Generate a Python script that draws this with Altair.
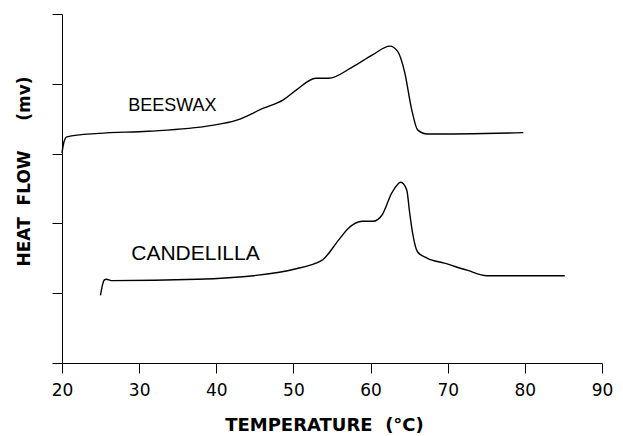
import altair as alt
import pandas as pd

# Beeswax DSC trace (temperature °C, heat flow arbitrary units)
bees_t = [20.0, 20.26, 20.64, 24.74, 31.14, 39.2, 42.66, 46.12, 48.68, 50.35, 52.9,
          54.57, 57.64, 60.2, 62.5, 63.53, 64.43, 65.33, 66.1, 67.37, 79.8]
bees_h = [3.01, 3.17, 3.24, 3.29, 3.32, 3.40, 3.48, 3.65, 3.77, 3.91, 4.08,
          4.08, 4.24, 4.41, 4.54, 4.46, 4.16, 3.63, 3.34, 3.28, 3.30]

# Candelilla DSC trace
cand_t = [24.99, 25.25, 25.5, 25.76, 26.4, 37.54, 48.17, 50.35, 52.9, 53.8, 55.85,
          57.13, 58.92, 60.33, 61.49, 62.77, 63.92, 64.69, 65.07, 65.45, 66.1,
          67.37, 69.55, 72.5, 75.06, 80.18, 85.17]
cand_h = [0.97, 1.12, 1.19, 1.20, 1.18, 1.20, 1.30, 1.35, 1.43, 1.48, 1.76,
          1.93, 2.03, 2.03, 2.12, 2.44, 2.59, 2.48, 2.15, 1.86, 1.59,
          1.50, 1.43, 1.33, 1.25, 1.25, 1.25]

x_ticks = [20, 30, 40, 50, 60, 70, 80, 90]
y_ticks = [0, 1, 2, 3, 4, 5]

NB = "\u00a0"
x_title = "TEMPERATURE" + NB * 2 + "(°C)"
y_title = "HEAT" + NB * 2 + "FLOW" + NB * 5 + "(mv)"

df = pd.concat([
    pd.DataFrame({"t": bees_t, "h": bees_h, "wax": "BEESWAX", "o": range(len(bees_t))}),
    pd.DataFrame({"t": cand_t, "h": cand_h, "wax": "CANDELILLA", "o": range(len(cand_t))}),
])

x_enc = alt.X("t:Q", scale=alt.Scale(domain=[20, 90], nice=False),
              axis=alt.Axis(values=x_ticks, title=x_title, grid=False, labelFlush=False,
                            labelFont="DejaVu Sans", labelFontSize=17, labelColor="black",
                            labelPadding=9, tickSize=10, tickColor="black", domainColor="black",
                            titleFont="DejaVu Sans", titleFontSize=18, titleFontWeight="bold",
                            titleColor="black", titleX=262, titleY=53, titleBaseline="top"))
y_enc = alt.Y("h:Q", scale=alt.Scale(domain=[0, 5], nice=False),
              axis=alt.Axis(values=y_ticks, labels=False, title=y_title, grid=False,
                            tickSize=10, tickColor="black", domainColor="black",
                            titleFont="DejaVu Sans", titleFontSize=17, titleFontWeight="bold",
                            titleColor="black", titleX=-38, titleY=157, titleAngle=270,
                            titleBaseline="middle", titleAlign="center"))

lines = alt.Chart(df).mark_line(color="black", strokeWidth=1.4, interpolate="monotone").encode(
    x=x_enc, y=y_enc, detail="wax:N", order="o:Q")

lab_b = alt.Chart().mark_text(text="BEESWAX", font="Liberation Sans", fontSize=18,
                              color="black", align="center", baseline="middle").encode(
    x=alt.datum(34.3), y=alt.datum(3.68))
lab_c = alt.Chart().mark_text(text="CANDELILLA", font="Liberation Sans", fontSize=21,
                              color="black", align="center", baseline="middle").encode(
    x=alt.datum(37.3), y=alt.datum(1.56))

chart = alt.layer(lines, lab_b, lab_c).properties(
    width=540, height=349,
    autosize=alt.AutoSizeParams(type="none"),
    padding={"left": 54, "top": 6, "right": 13, "bottom": 72},
).configure_view(stroke=None)

chart.save("out.html", embed_options={"renderer": "svg", "actions": False})
